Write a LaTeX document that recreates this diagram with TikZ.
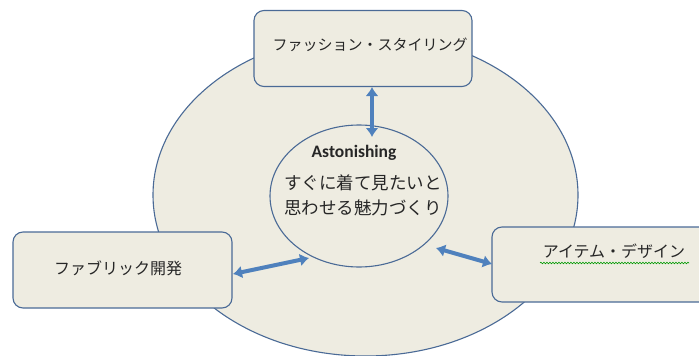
\documentclass[tikz,border=0pt]{standalone}
\usepackage{fontspec}
\setmainfont{Noto Sans CJK JP}
\newfontfamily\jp{Noto Sans CJK JP}
\newfontfamily\lat{Carlito}
\usetikzlibrary{arrows.meta,shapes.geometric,decorations.pathmorphing}
\definecolor{fillc}{HTML}{EEECE1}
\definecolor{linec}{HTML}{4A6A96}
\definecolor{arrc}{HTML}{4F81BD}
\begin{document}
\begin{tikzpicture}[x=1pt,y=-1pt,
  panel/.style={draw=linec,line width=1.1pt,fill=fillc,rounded corners=10pt,inner sep=0pt},
  oval/.style={ellipse,draw=linec,line width=1.1pt,fill=fillc,inner sep=0pt},
  link/.style={draw=arrc,line width=4pt,{Latex[length=9pt,width=13pt]}-{Latex[length=9pt,width=13pt]}},
  lbl/.style={font=\jp\fontsize{16}{18}\selectfont,text=black!85,inner sep=0pt},
  squiggle/.style={draw=green!60!black,line width=0.6pt,decorate,decoration={snake,amplitude=0.8pt,segment length=3pt}}]
\useasboundingbox (0,0) rectangle (699,356);
\clip (0,0) rectangle (699,356);
% outer ellipse
\node[oval,minimum width=425pt,minimum height=322pt] (outer) at (365.5,195) {};
% boxes
\node[panel,minimum width=218pt,minimum height=76pt] (fashion) at (363,48.5) {};
\node[panel,minimum width=219pt,minimum height=76pt] (fabric) at (122.5,270) {};
\node[panel,minimum width=228pt,minimum height=75pt] (item) at (606,264.5) {};
% inner ellipse
\node[oval,minimum width=178pt,minimum height=142pt] (core) at (359,196) {};
% labels
\node[lbl,font=\jp\fontsize{15}{18}\selectfont] (tfashion) at (370,45) {ファッション・スタイリング};
\node[lbl] (tfabric) at (118,268) {ファブリック開発};
\node[lbl] (titem) at (614,251) {アイテム・デザイン};
\coordinate (w1) at (540,263);
\coordinate (w2) at (689,263);
\draw[squiggle] (w1) -- (w2);
\node[font=\lat\bfseries\fontsize{17.5}{20}\selectfont,text=black!85,inner sep=0pt] (tast) at (354,153) {Astonishing};
\node[lbl,font=\jp\fontsize{17.5}{25}\selectfont,align=left,anchor=west] (tcore) at (284,195) {すぐに着て見たいと\\思わせる魅力づくり};
% arrows
\coordinate (a1) at (372,87);
\coordinate (a2) at (372,137);
\coordinate (b1) at (233,274);
\coordinate (b2) at (309,258);
\coordinate (c1) at (436,248);
\coordinate (c2) at (492,264);
\draw[link] (a1) -- (a2);
\draw[link] (b1) -- (b2);
\draw[link] (c1) -- (c2);
\end{tikzpicture}
\end{document}
